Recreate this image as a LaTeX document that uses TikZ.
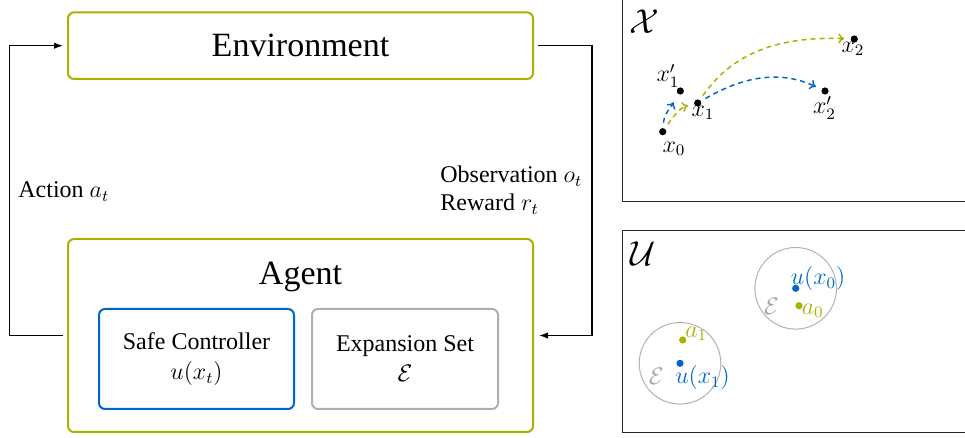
\documentclass[tikz,border=0pt]{standalone}
\usepackage{fontspec}
\setmainfont{Liberation Serif}
\usetikzlibrary{arrows.meta,positioning}

\definecolor{agentolive}{RGB}{170,178,0}
\definecolor{ctrlblue}{RGB}{0,102,204}
\definecolor{setgrey}{RGB}{175,175,175}

\begin{document}
\begin{tikzpicture}[x=0.5pt, y=-0.5pt,
  bigbox/.style={draw=agentolive, line width=1pt, rounded corners=3pt,
                 minimum width=232.5pt, font=\fontsize{17}{20}\selectfont},
  innerbox/.style={draw, line width=1pt, rounded corners=3pt,
                   minimum height=50pt, align=center,
                   font=\fontsize{12}{15}\selectfont},
  lbl/.style={font=\fontsize{12}{14}\selectfont, inner sep=0pt},
  arr/.style={-{Latex[length=4.5pt,width=3.2pt]}, line width=0.65pt},
  panel/.style={draw=black!85, line width=0.65pt},
  pdot/.style={circle, fill=black, inner sep=0pt, minimum size=3.6pt},
  ptlbl/.style={font=\fontsize{11.5}{13}\selectfont, inner sep=0pt},
  spacelbl/.style={font=\fontsize{17}{20}\selectfont, inner sep=0pt},
  traj/.style={-{To[length=3pt,width=5pt]}, line width=0.75pt,
               dash pattern=on 2.5pt off 2pt, shorten <=2.5pt, shorten >=3pt},
  ring/.style={draw=black!30, line width=0.5pt}
]
\useasboundingbox (0,0) rectangle (965,438);

% loop
\node[bigbox, minimum height=33.3pt] (env)   at (300.5,45.7)  {Environment};
\node[bigbox, minimum height=96.5pt] (agent) at (300.5,335.5) {};
\node[font=\fontsize{17}{20}\selectfont, anchor=base]
     (agentl) at ([yshift=-23.5pt]agent.north) {Agent};
\node[innerbox, draw=ctrlblue, minimum width=97.5pt] (ctrl) at (196.5,359)
     {Safe Controller\\$u(x_t)$};
\node[innerbox, draw=setgrey, minimum width=93pt, right=8pt of ctrl] (expset)
     {Expansion Set\\$\mathcal{E}$};

\coordinate (lft) at (9.5,0);
\coordinate (rgt) at (592,0);
\draw[arr, shorten <=2pt, shorten >=2pt] (agent.west) -- (agent.west -| lft) |- (env.west);
\draw[arr, shorten <=2pt, shorten >=2.5pt] (env.east) -- (env.east -| rgt) |- (agent.east);

\node[lbl, anchor=base west] (act) at (18,198)  {Action $a_t$};
\node[lbl, anchor=base west] (obs) at (440,183) {Observation $o_t$};
\node[lbl, anchor=base west] (rew) at (440,211) {Reward $r_t$};

% state and action spaces
\begin{scope}
  \clip (0,0) rectangle (965,438);
  \draw[panel] (622.5,-5) rectangle (975,201.3);
  \draw[panel] (622.5,230.7) rectangle (975,432.7);
\end{scope}

\node[spacelbl] (sx) at (644,22) {$\mathcal{X}$};
\node[pdot] (x0)  at (662.7,131.7) {};
\node[pdot] (x1p) at (680.3,91) {};
\node[pdot] (x1)  at (697.7,103) {};
\node[pdot] (x2)  at (854.3,39) {};
\node[pdot] (x2p) at (825,91) {};
\node[ptlbl] (x0l)  at (674,149)   {$x_0$};
\node[ptlbl] (x1pl) at (668,76)    {$x_1'$};
\node[ptlbl] (x1l)  at (703,113)   {$x_1$};
\node[ptlbl] (x2l)  at (853,49)    {$x_2$};
\node[ptlbl] (x2pl) at (824.5,108) {$x_2'$};
\draw[traj, ctrlblue, shorten >=4.5pt] (x0) to[out=85, in=240] (x1p);
\draw[traj, agentolive] (x0) to[out=55, in=195] (x1);
\draw[traj, agentolive] (x1) to[out=55, in=178] (x2);
\draw[traj, ctrlblue]   (x1) to[out=30, in=155] (x2p);

\node[spacelbl] (su) at (643.5,254) {$\mathcal{U}$};
\node[pdot, fill=ctrlblue]   (ux0) at (795.7,288.3) {};
\node[pdot, fill=agentolive] (a0)  at (799,305.7) {};
\node[pdot, fill=ctrlblue]   (ux1) at (680,363.3) {};
\node[pdot, fill=agentolive] (a1)  at (682.7,340) {};
\draw[ring] (ux0) circle[radius=20.4pt];
\draw[ring] (ux1) circle[radius=20.4pt];
\node[ptlbl, text=ctrlblue]   (ux0l) at (818,278.5)   {$u(x_0)$};
\node[ptlbl, text=agentolive] (a0l)  at (812.7,311)   {$a_0$};
\node[ptlbl, text=black!35]   (e0l)  at (771.5,306.5) {$\mathcal{E}$};
\node[ptlbl, text=agentolive] (a1l)  at (696.3,334)   {$a_1$};
\node[ptlbl, text=ctrlblue]   (ux1l) at (702.5,378)   {$u(x_1)$};
\node[ptlbl, text=black!35]   (e1l)  at (656.3,376)   {$\mathcal{E}$};
\end{tikzpicture}
\end{document}
